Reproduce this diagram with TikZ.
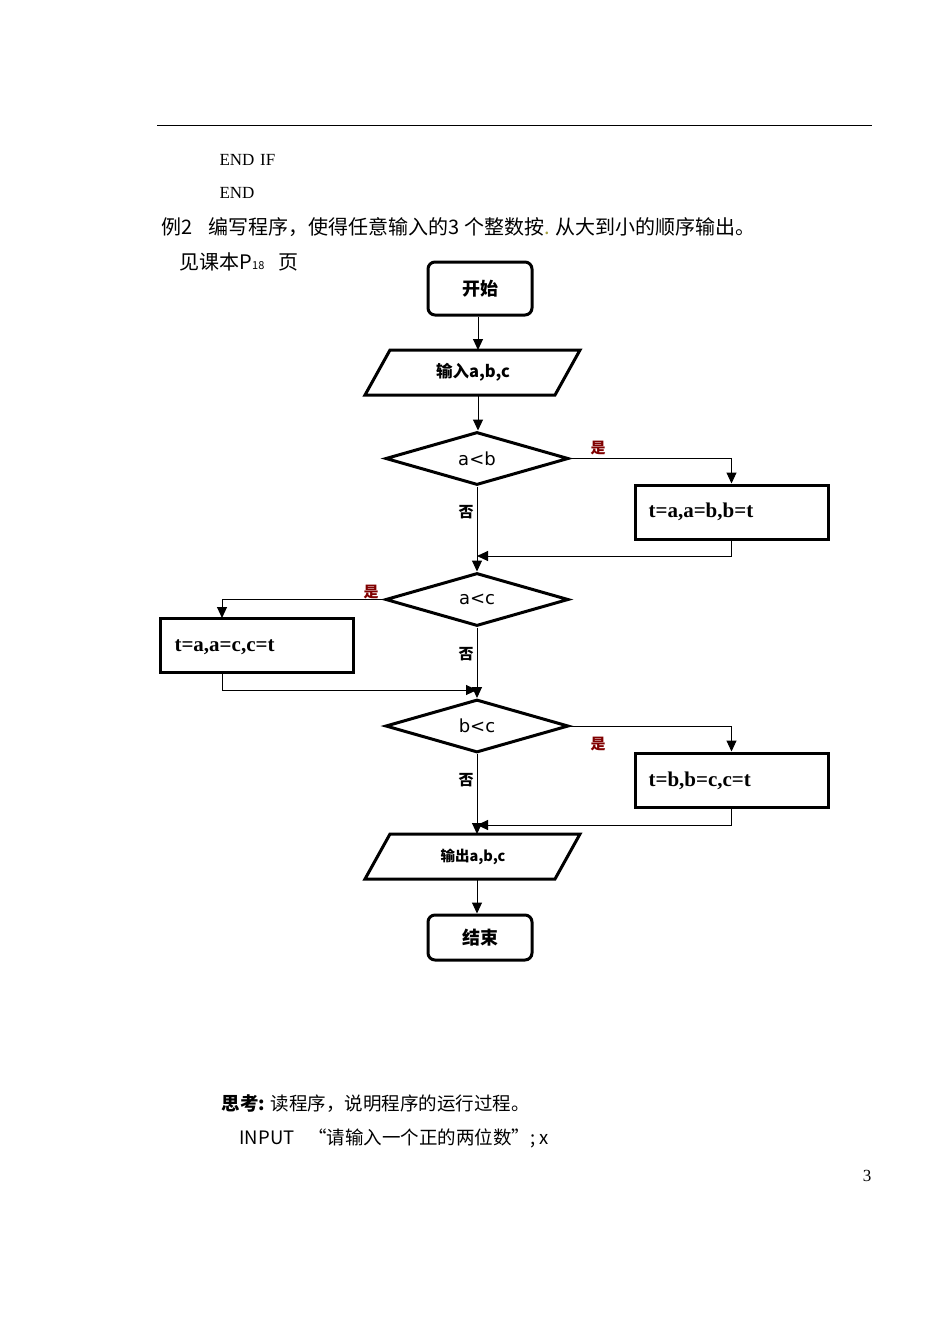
\documentclass[tikz,border=0pt]{standalone}
\usepackage{fontspec}
\setmainfont{Liberation Serif}
\newfontfamily\cjk{Noto Sans CJK SC}
\newfontfamily\sans{DejaVu Sans}
\usetikzlibrary{arrows.meta,shapes.geometric}
\begin{document}
\begin{tikzpicture}[x=1pt,y=-1pt,
  shp/.style={line width=3pt,line join=miter},
  con/.style={line width=1pt},
  arr/.style={con,-{Triangle[length=11pt,width=10pt]}},
  yes/.style={text=red!50!black,font=\cjk\bfseries\fontsize{15}{15}\selectfont},
  no/.style={font=\cjk\bfseries\fontsize{15}{15}\selectfont},
  box/.style={shp,draw,minimum width=193pt,minimum height=54pt,inner sep=0pt},
  bt/.style={anchor=west,font=\bfseries\fontsize{21}{21}\selectfont},
  rr/.style={shp,draw,rounded corners=7pt,minimum width=104pt,inner sep=0pt,font=\cjk\bfseries\fontsize{18}{18}\selectfont},
  dia/.style={shp,draw,diamond,aspect=3.45,minimum width=183pt,minimum height=53pt,inner sep=0pt,font=\sans\fontsize{18}{18}\selectfont},
  txt/.style={anchor=west,font=\cjk\fontsize{20}{20}\selectfont}]
\useasboundingbox (0,0) rectangle (950,1342);
\draw[con] (157,125) -- (872,125);
\node[anchor=west,font=\fontsize{17}{17}\selectfont] (t1) at (216,160) {END\,\,IF};
\node[anchor=west,font=\fontsize{17}{17}\selectfont] (t2) at (216,193) {END};
\node[txt] (t3) at (158,227) {例2\hspace{16pt}编写程序，使得任意输入的3 个整数按{\color{yellow!60!black}.} 从大到小的顺序输出。};
\node[txt] (t4) at (176,262) {见课本P{\fontsize{11}{11}\selectfont 18}\hspace{14pt}页};

\node[rr,minimum height=53pt] (start) at (480,288.5) {开始};
\draw[shp] (390,350) -- (580,350) -- (555,395) -- (365,395) -- cycle;
\node[font=\cjk\bfseries\fontsize{16.5}{16.5}\selectfont] (in) at (473,372.5) {输入\textbf{a,b,c}};
\coordinate (inT) at (478,350); \coordinate (inB) at (478,395);
\node[dia] (d1) at (477,458.5) {a<b};
\node[dia] (d2) at (477,599.5) {a<c};
\node[dia] (d3) at (477,726) {b<c};
\node[box] (b1) at (731.5,512) {};
\node[bt] (l1) at (645,512) {t=a,a=b,b=t};
\node[box] (b2) at (257,645.5) {};
\node[bt] (l2) at (171,647) {t=a,a=c,c=t};
\node[box] (b3) at (731.5,780) {};
\node[bt] (l3) at (645,781) {t=b,b=c,c=t};
\draw[shp] (390,834) -- (580,834) -- (555,879) -- (365,879) -- cycle;
\node[font=\cjk\bfseries\fontsize{14.5}{14.5}\selectfont] (out) at (473,857) {输出\textbf{a,b,c}};
\coordinate (outT) at (477,834); \coordinate (outB) at (477,879);
\node[rr,minimum height=45pt] (end) at (480,937.5) {结束};
\coordinate (b2in) at (222,618); \coordinate (b2out) at (222,673);

\draw[arr] (start.south -| inT) -- (inT);
\draw[arr] (inB) -- (d1.north -| inB);
\draw[arr] (d1.south) -- (d2.north);
\draw[arr] (d2.south) -- (d3.north);
\draw[arr] (d3.south) -- (outT);
\draw[arr] (outB) -- (end.north -| outB);

\draw[arr] (d1.east) -| (b1.north);
\draw[arr] (b1.south) |- (477,556);
\draw[arr] (d2.west) -| (b2in);
\draw[arr] (b2out) |- (477,690);
\draw[arr] (d3.east) -| (b3.north);
\draw[arr] (b3.south) |- (477,825);

\node[yes] (y1) at (598,448) {是};
\node[yes] (y2) at (371,592) {是};
\node[yes] (y3) at (598,744) {是};
\node[no] (n1) at (466,512) {否};
\node[no] (n2) at (466,654) {否};
\node[no] (n3) at (466,780) {否};

\node[txt,font=\cjk\fontsize{18.5}{18.5}\selectfont] (s1) at (218,1104) {\textbf{思考:} 读程序，说明程序的运行过程。};
\node[txt,font=\cjk\fontsize{18.5}{18.5}\selectfont] (s2) at (236,1138) {INPUT\hspace{14pt}“请输入一个正的两位数”; x};
\node[font=\fontsize{17}{17}\selectfont] (pg) at (867,1176) {3};
\end{tikzpicture}
\end{document}
